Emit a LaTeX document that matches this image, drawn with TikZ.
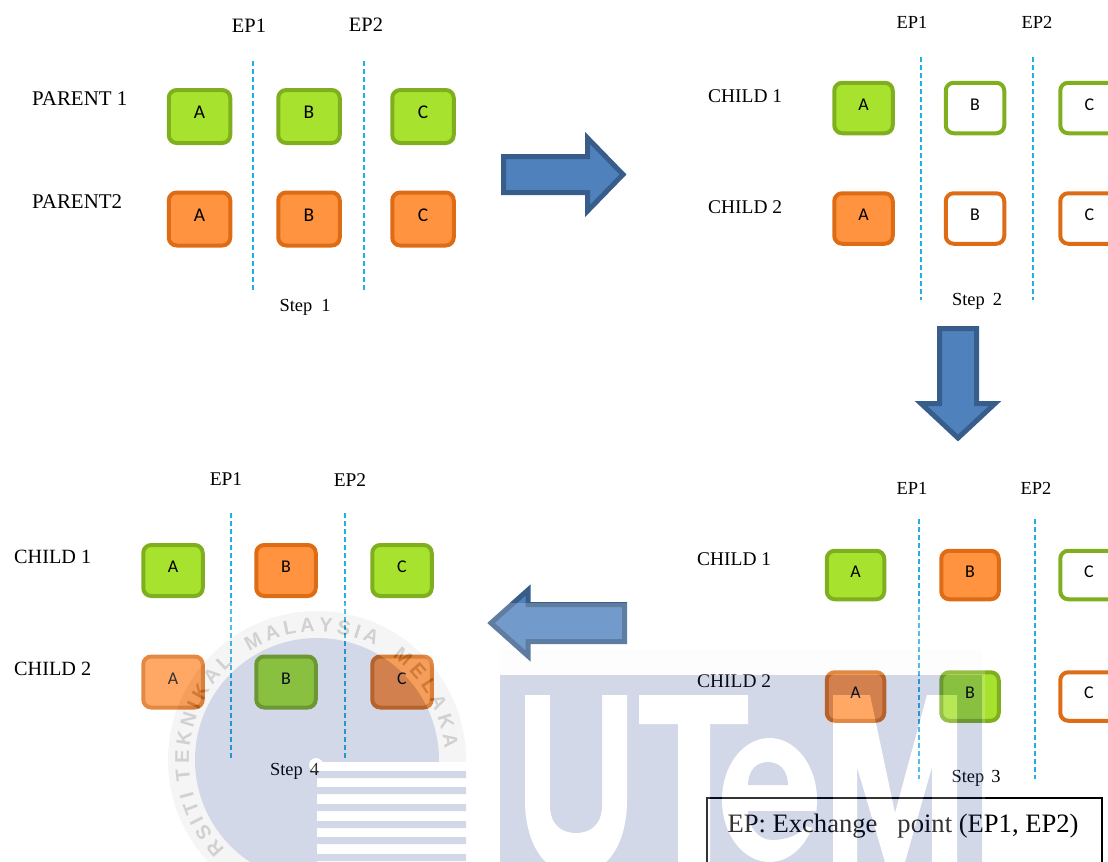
\documentclass[tikz,border=0pt]{standalone}
\usepackage{fontspec}
\setmainfont{Liberation Serif}
\newfontfamily\boxfont{Carlito}
\newfontfamily\ringfont{Liberation Sans}
\usepackage{tikz}
\usetikzlibrary{decorations.text}
\definecolor{limefill}{HTML}{A6E22E}
\definecolor{limeline}{HTML}{7FAF1E}
\definecolor{orangefill}{HTML}{FF933F}
\definecolor{orangeline}{HTML}{DD6C15}
\definecolor{cutline}{HTML}{25ADE6}
\definecolor{arrowfill}{HTML}{4F81BD}
\definecolor{arrowline}{HTML}{385D8A}
\definecolor{stampblue}{RGB}{30,60,140}
\definecolor{stampgrey}{RGB}{205,205,205}
\tikzset{
  cellbox/.style={rounded corners=8bp, line width=4bp, text=black, inner sep=0pt,
    text height=10bp, text depth=6bp, font=\boxfont\fontsize{18}{18}\selectfont},
  limefull/.style={cellbox, draw=limeline, fill=limefill},
  orangefull/.style={cellbox, draw=orangeline, fill=orangefill},
  limeempty/.style={cellbox, draw=limeline, fill=white},
  orangeempty/.style={cellbox, draw=orangeline, fill=white},
  sizeone/.style={minimum width=61.5bp, minimum height=53bp, font=\boxfont\fontsize{19.5}{20}\selectfont},
  sizetwo/.style={minimum width=58.5bp, minimum height=50.5bp},
  sizethree/.style={minimum width=57.5bp, minimum height=48.5bp},
  sizefour/.style={minimum width=59.5bp, minimum height=51bp},
  cutmark/.style={draw=cutline, line width=1.2bp, dash pattern=on 5bp off 3bp},
  textone/.style={inner sep=0pt, font=\fontsize{20.5}{21}\selectfont},
  labelone/.style={inner sep=0pt, font=\fontsize{21}{21}\selectfont},
  texttwo/.style={inner sep=0pt, font=\fontsize{18.5}{19}\selectfont},
  labeltwo/.style={inner sep=0pt, font=\fontsize{19.5}{20}\selectfont},
  textfour/.style={inner sep=0pt, font=\fontsize{19.5}{20}\selectfont},
  labelfour/.style={inner sep=0pt, font=\fontsize{20.3}{21}\selectfont},
  bigarrow/.style={draw=arrowline, fill=arrowfill, line width=5bp, miter limit=10},
  ringword/.style={decorate, decoration={text along path, text align={fit to path},
    text={|\ringfont\bfseries\fontsize{20}{20}\selectfont\color{black!90}|#1}}}
}
\begin{document}
\begin{tikzpicture}[x=1bp, y=-1bp]
  \useasboundingbox (0,0) rectangle (1108,862);
  \clip (0,0) rectangle (1108,862);

  % Step 1
  \node[labelone, anchor=west] (parent1) at (32,99) {PARENT 1};
  \node[labelone, anchor=west] (parent2) at (32,202) {PARENT2};
  \node[textone] (ep1one) at (249,26) {EP1};
  \node[textone] (ep2one) at (366,25) {EP2};
  \node[limefull, sizeone] (a1one) at (199.5,116.5) {A};
  \node[limefull, sizeone] (b1one) at (309,116.5) {B};
  \node[limefull, sizeone] (c1one) at (423,116.5) {C};
  \node[orangefull, sizeone] (a2one) at (199.5,219) {A};
  \node[orangefull, sizeone] (b2one) at (309,219) {B};
  \node[orangefull, sizeone] (c2one) at (423,219) {C};
  \draw[cutmark] (253,61) -- (253,291);
  \draw[cutmark] (364,61) -- (364,291);
  \node[texttwo] (stepone) at (305,307) {Step\hspace{9bp}1};

  % Step 2
  \node[labeltwo, anchor=west] (child1two) at (708,96) {CHILD 1};
  \node[labeltwo, anchor=west] (child2two) at (708,207) {CHILD 2};
  \node[texttwo] (ep1two) at (912,22) {EP1};
  \node[texttwo] (ep2two) at (1037,22) {EP2};
  \node[limefull, sizetwo] (a1two) at (863.5,108) {A};
  \node[limeempty, sizetwo] (b1two) at (975,108) {B};
  \node[limeempty, sizetwo] (c1two) at (1089.5,108) {C};
  \node[orangefull, sizetwo] (a2two) at (863.5,218.5) {A};
  \node[orangeempty, sizetwo] (b2two) at (975,218.5) {B};
  \node[orangeempty, sizetwo] (c2two) at (1089.5,218.5) {C};
  \draw[cutmark] (921,57) -- (921,300);
  \draw[cutmark] (1033,57) -- (1033,300);
  \node[texttwo] (steptwo) at (977,301) {Step\hspace{8bp}2};

  % Step 3
  \node[labeltwo, anchor=west] (child1three) at (697,559) {CHILD 1};
  \node[labeltwo, anchor=west] (child2three) at (697,681) {CHILD 2};
  \node[texttwo] (ep1three) at (912,488) {EP1};
  \node[texttwo] (ep2three) at (1036,488) {EP2};
  \node[limefull, sizethree] (a1three) at (855.5,575) {A};
  \node[orangefull, sizethree] (b1three) at (970,575) {B};
  \node[limeempty, sizethree] (c1three) at (1089,575) {C};
  \node[orangefull, sizethree] (a2three) at (855.5,696.5) {A};
  \node[limefull, sizethree] (b2three) at (970,696.5) {B};
  \node[orangeempty, sizethree] (c2three) at (1089,696.5) {C};
  \draw[cutmark] (919,519) -- (919,779);
  \draw[cutmark] (1035,519) -- (1035,779);
  \node[texttwo] (stepthree) at (976,778) {Step\hspace{7bp}3};

  % Step 4
  \node[labelfour, anchor=west] (child1four) at (14,557) {CHILD 1};
  \node[labelfour, anchor=west] (child2four) at (14,669) {CHILD 2};
  \node[textfour] (ep1four) at (226,479) {EP1};
  \node[textfour] (ep2four) at (350,480) {EP2};
  \node[limefull, sizefour] (a1four) at (173,570.5) {A};
  \node[orangefull, sizefour] (b1four) at (286,570.5) {B};
  \node[limefull, sizefour] (c1four) at (402,570.5) {C};
  \node[orangefull, sizefour] (a2four) at (173,682) {A};
  \node[limefull, sizefour] (b2four) at (286,682) {B};
  \node[orangefull, sizefour] (c2four) at (402,682) {C};
  \draw[cutmark] (231,513) -- (231,760);
  \draw[cutmark] (345,513) -- (345,760);
  \node[texttwo] (stepfour) at (294.5,771) {Step\hspace{7bp}4};

  % Arrows between the steps
  \draw[bigarrow] (503.5,156.5) -- (587.5,156.5) -- (587.5,138) -- (623,174.5) -- (587.5,211) -- (587.5,192.5) -- (503.5,192.5) -- cycle;
  \draw[bigarrow] (939.5,328.5) -- (976.5,328.5) -- (976.5,403.5) -- (995,403.5) -- (958,438) -- (921,403.5) -- (939.5,403.5) -- cycle;
  \draw[bigarrow] (624.5,604.5) -- (528,604.5) -- (528,590) -- (491,623) -- (528,656) -- (528,641.5) -- (624.5,641.5) -- cycle;

  % Legend
  \draw[line width=1.8bp] (707,798) rectangle (1102,900);
  \node[inner sep=0pt, font=\fontsize{26.7}{27}\selectfont] (legend) at (903,826) {EP: Exchange\ \ \ point (EP1, EP2)};

  % Stamp over the page
  \begin{scope}[transparency group, opacity=.2]
    \fill[white] (135,603) rectangle (985,862);
    \fill[stampgrey] (317,760) circle (149);
    \fill[stampblue] (317,760) circle (122);
    \path[ringword=RSITI] (317,760) ++(136:128) arc[start angle=136, end angle=166, radius=128];
    \path[ringword=TEKNIKAL] (317,760) ++(171:128) arc[start angle=171, end angle=229, radius=128];
    \path[ringword=MALAYSIA] (317,760) ++(238:128) arc[start angle=238, end angle=297, radius=128];
    \path[ringword=MELAKA] (317,760) ++(306:128) arc[start angle=306, end angle=355, radius=128];
    \fill[white] (317,762) rectangle (466,862);
    \fill[white] (316,765) circle (7);
    \fill[stampblue] (317,771) rectangle (466,778);
    \fill[stampblue] (317,787) rectangle (466,794);
    \fill[stampblue] (317,804) rectangle (466,811);
    \fill[stampblue] (317,821) rectangle (466,828);
    \fill[stampblue] (317,837) rectangle (466,844);
    \fill[stampblue] (317,854) rectangle (466,861);

    \fill[stampgrey!25] (500,650) rectangle (982,675);
    \fill[stampblue] (500,675) rectangle (982,862);
    % U
    \fill[white] (525,695) -- (525,800) .. controls (525,850) and (550,875) .. (576,875) .. controls (602,875) and (627,850) .. (627,800) -- (627,695) -- cycle;
    \fill[stampblue] (550,695) -- (550,805) .. controls (550,825) and (562,833) .. (576,833) .. controls (590,833) and (602,825) .. (602,805) -- (602,695) -- cycle;
    % T
    \fill[white] (639,695) rectangle (748,724);
    \fill[white] (678,724) rectangle (710,862);
    % e
    \fill[white] (769.5,800) ellipse [x radius=47.5, y radius=62];
    \fill[stampblue] (748,785) .. controls (748,770) and (757,762) .. (768,762) .. controls (779,762) and (788,770) .. (788,785) -- cycle;
    \fill[stampblue] (748,811) -- (820,811) -- (820,830) -- (806,826) .. controls (798,836) and (785,840) .. (772,840) .. controls (758,840) and (748,826) .. cycle;
    % M
    \fill[white] (833,695) -- (870,695) -- (895,813) -- (927,695) -- (957,695) -- (957,862) -- (932,862) -- (932,767) -- (905,862) -- (885,862) -- (857,767) -- (857,862) -- (833,862) -- cycle;
  \end{scope}
\end{tikzpicture}
\end{document}
